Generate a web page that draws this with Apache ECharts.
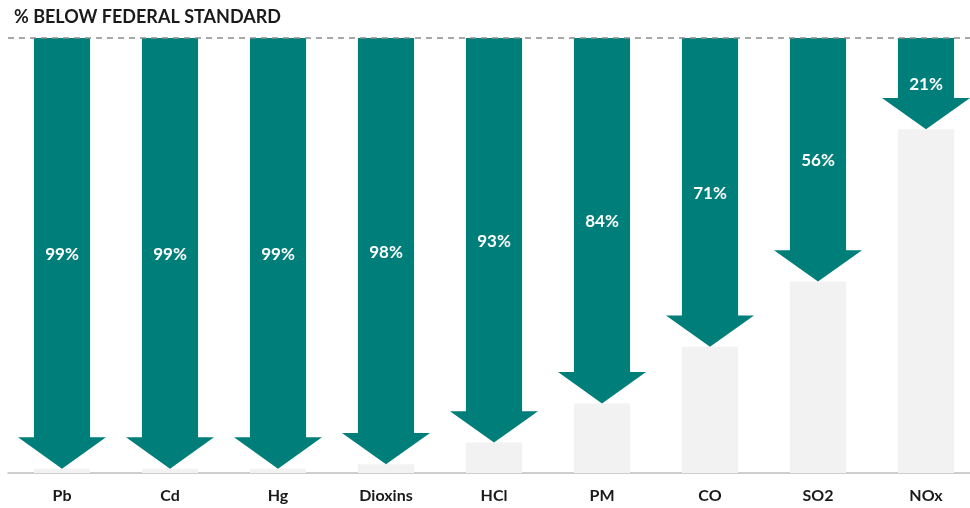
<!DOCTYPE html>
<html>
<head>
<meta charset="utf-8">
<script src="https://cdn.jsdelivr.net/npm/echarts@6/dist/echarts.min.js"></script>
<style>
  html, body { margin: 0; padding: 0; background: #fff; }
  #chart { width: 970px; height: 508px; }
</style>
</head>
<body>
<div id="chart"></div>
<script>
var categories = ['Pb', 'Cd', 'Hg', 'Dioxins', 'HCl', 'PM', 'CO', 'SO2', 'NOx']
var percentBelow = [99, 99, 99, 98, 93, 84, 71, 56, 21]

var teal = '#007f7a'
var font = 'Lato, "Open Sans", sans-serif'

// grey bar = what is left up to the standard
var remaining = percentBelow.map(function (v) { return 100 - v })

function renderArrow (params, api) {
  var idx = api.value(0)
  var v = api.value(1)
  var top = api.coord([idx, 100])
  var tip = api.coord([idx, 100 - v])
  var band = api.size([1, 0])[0]
  var shaft = band * 0.52 / 2
  var head = band * 0.815 / 2
  var headH = band * 0.29
  var cx = top[0]
  var neck = tip[1] - headH
  return {
    type: 'group',
    children: [{
      type: 'polygon',
      shape: {
        points: [
          [cx - shaft, top[1]], [cx + shaft, top[1]],
          [cx + shaft, neck], [cx + head, neck],
          [cx, tip[1]],
          [cx - head, neck], [cx - shaft, neck]
        ]
      },
      style: { fill: teal }
    }, {
      type: 'text',
      x: cx,
      y: (top[1] + tip[1]) / 2 + 1,
      style: {
        text: v + '%',
        fill: '#fff',
        font: 'bold 17px ' + font,
        align: 'center',
        verticalAlign: 'middle'
      }
    }]
  }
}

var chart = echarts.init(document.getElementById('chart'))

chart.setOption({
  animation: false,
  title: {
    text: '% BELOW FEDERAL STANDARD',
    left: 9,
    top: 3,
    textStyle: { fontFamily: font, fontWeight: 'bold', fontSize: 18, color: '#1a1a1a' }
  },
  grid: { left: 8, width: 972, top: 38, bottom: 35, outerBoundsMode: 'none' },
  xAxis: {
    type: 'category',
    data: categories,
    axisLine: { lineStyle: { color: '#bfbfbf', width: 1.5 } },
    axisTick: { length: 5, lineStyle: { color: '#999' } },
    axisLabel: { margin: 15, fontFamily: font, fontWeight: 'bold', fontSize: 16, color: '#1a1a1a' }
  },
  yAxis: {
    type: 'value',
    min: 0,
    max: 100,
    show: false
  },
  series: [{
    type: 'bar',
    data: remaining,
    barWidth: '52%',
    itemStyle: { color: '#f2f2f2' },
    silent: true,
    markLine: {
      symbol: 'none',
      silent: true,
      label: { show: false },
      lineStyle: { color: '#8c8c8c', type: [6, 5], width: 1.5 },
      data: [{ yAxis: 100 }]
    }
  }, {
    type: 'custom',
    renderItem: renderArrow,
    data: percentBelow.map(function (v, i) { return [i, v] }),
    z: 3
  }]
})
</script>
</body>
</html>
